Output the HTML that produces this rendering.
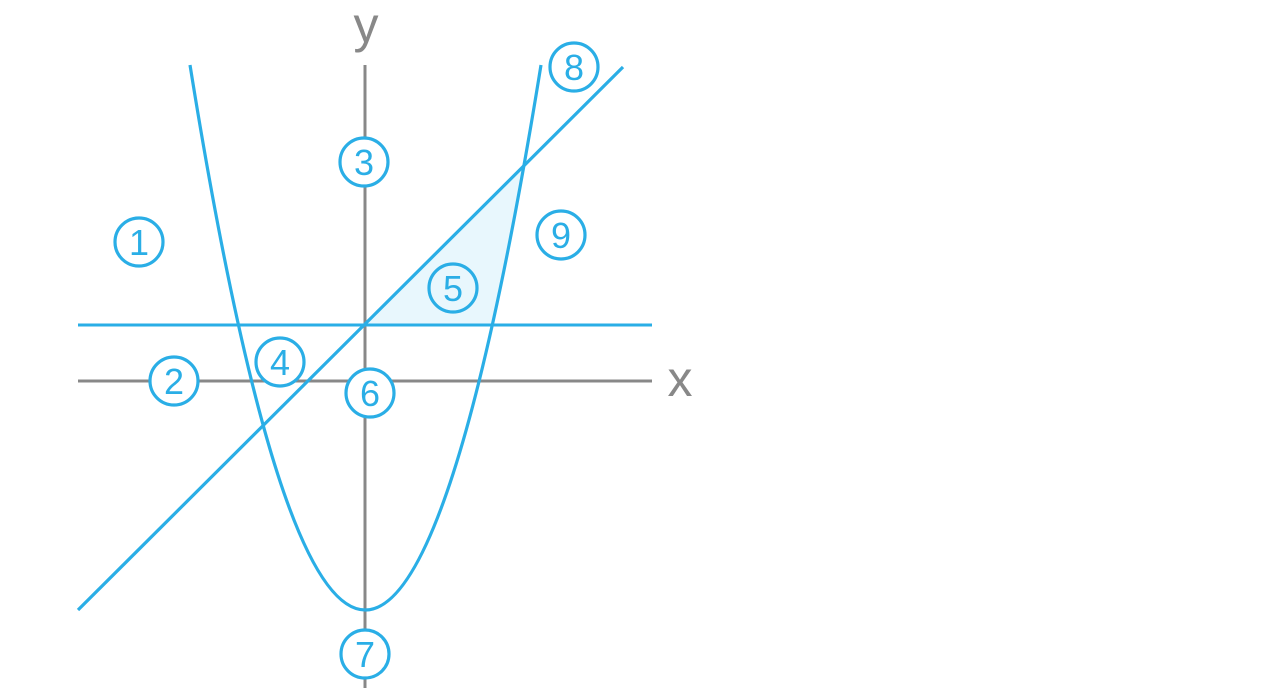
<!DOCTYPE html>
<html><head><meta charset="utf-8"><style>
html,body{margin:0;padding:0;background:#fff;}
svg{display:block}
text{font-family:"Liberation Sans","DejaVu Sans",sans-serif;}
</style></head><body>
<svg width="1274" height="698" viewBox="0 0 1274 698" xmlns="http://www.w3.org/2000/svg">
<polygon points="365,325 523,167 492,325" fill="#e8f7fd"/>
<line x1="365" y1="65" x2="365" y2="688" stroke="#888" stroke-width="3"/>
<line x1="78" y1="381" x2="652" y2="381" stroke="#888" stroke-width="3"/>
<line x1="78" y1="325" x2="652" y2="325" stroke="#2aaee6" stroke-width="3"/>
<line x1="78" y1="610" x2="623" y2="67" stroke="#2aaee6" stroke-width="3.2"/>
<path d="M190,65 Q365,1155 541,65" fill="none" stroke="#2aaee6" stroke-width="3.2"/>
<text x="366" y="42" font-size="50" fill="#888" text-anchor="middle">y</text>
<text x="680" y="396" font-size="50" fill="#888" text-anchor="middle">x</text>
<g fill="#fff" stroke="#2aaee6" stroke-width="3.2">
<circle cx="139" cy="242" r="24"/>
<circle cx="174" cy="381" r="24"/>
<circle cx="364" cy="162" r="24"/>
<circle cx="280" cy="362" r="24"/>
<circle cx="453" cy="288" r="24" fill="#e8f7fd"/>
<circle cx="370" cy="393" r="24"/>
<circle cx="365" cy="654" r="24"/>
<circle cx="574" cy="67" r="24"/>
<circle cx="561" cy="235" r="24"/>
</g>
<g fill="#2aaee6" font-size="36" text-anchor="middle">
<text x="139" y="255">1</text>
<text x="174" y="394">2</text>
<text x="364" y="175">3</text>
<text x="280" y="375">4</text>
<text x="453" y="301">5</text>
<text x="370" y="406">6</text>
<text x="365" y="667">7</text>
<text x="574" y="80">8</text>
<text x="561" y="248">9</text>
</g>
</svg>
</body></html>
